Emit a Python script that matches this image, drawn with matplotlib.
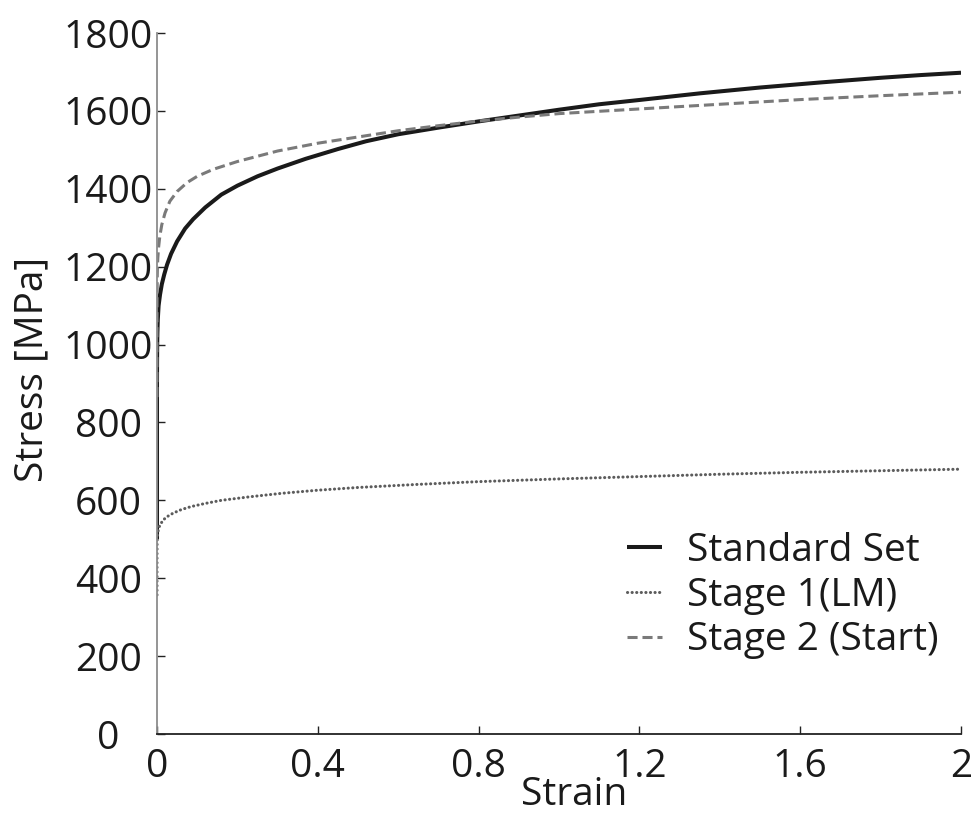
import matplotlib
matplotlib.use("Agg")
import matplotlib.pyplot as plt

plt.rcParams['font.family'] = ['Open Sans', 'DejaVu Sans']

# Flow curves: strain [-] vs. stress [MPa]
std_strain = [0, 0, 0.0002, 0.0005, 0.001, 0.002, 0.004, 0.0075, 0.012, 0.018,
              0.025, 0.035, 0.05, 0.07, 0.09, 0.12, 0.16, 0.2, 0.25, 0.3,
              0.37, 0.45, 0.52, 0.6, 0.7, 0.8, 0.9, 1.0, 1.1, 1.2,
              1.35, 1.5, 1.65, 1.8, 1.9, 2.0]
std_stress = [500, 900, 960, 1000, 1030, 1065, 1100, 1128, 1155, 1180,
              1205, 1233, 1265, 1298, 1322, 1352, 1385, 1408, 1432, 1452,
              1477, 1502, 1522, 1540, 1557, 1573, 1588, 1603, 1617, 1628,
              1645, 1660, 1673, 1685, 1692, 1698]

lm_strain = [0, 0, 0.0002, 0.0007, 0.0015, 0.003, 0.006, 0.01, 0.016, 0.025,
             0.04, 0.06, 0.085, 0.12, 0.16, 0.23, 0.31, 0.4, 0.5, 0.65,
             0.8, 1.0, 1.2, 1.4, 1.6, 1.8, 2.0]
lm_stress = [357, 450, 487, 505, 515, 522, 533, 541, 550, 558,
             567, 576, 584, 592, 600, 609, 618, 626, 633, 641,
             648, 655, 661, 667, 672, 676, 680]

start_strain = [0, 0, 0.0001, 0.0005, 0.001, 0.002, 0.004, 0.007, 0.012, 0.02,
                0.032, 0.05, 0.075, 0.1, 0.14, 0.2, 0.3, 0.4, 0.5, 0.6,
                0.7, 0.8, 0.9, 1.0, 1.2, 1.4, 1.6, 1.8, 2.0]
start_stress = [865, 1000, 1090, 1170, 1195, 1222, 1250, 1278, 1308, 1338,
                1368, 1393, 1416, 1432, 1450, 1470, 1497, 1517, 1533, 1549,
                1562, 1574, 1584, 1593, 1605, 1617, 1629, 1639, 1648]

labels = ["Standard Set", "Stage 1(LM)", "Stage 2 (Start)"]
x_ticks = [0, 0.4, 0.8, 1.2, 1.6, 2]
x_ticklabels = ["0", "0.4", "0.8", "1.2", "1.6", "2"]
y_ticks = [0, 200, 400, 600, 800, 1000, 1200, 1400, 1600, 1800]

fs = 28
ink = '#1a1a1a'

fig = plt.figure(figsize=(9.78, 8.13), dpi=100)
ax = fig.add_axes([157 / 978, 1 - 734 / 813, (961 - 157) / 978, (734 - 33) / 813])

ax.plot(std_strain, std_stress, color=ink, lw=2.9,
        solid_capstyle='butt', label=labels[0])
ax.plot(lm_strain, lm_stress, color='#5c5c5c', lw=2.2,
        linestyle=(0, (0.05, 1.45)), dash_capstyle='round', label=labels[1])
ax.plot(start_strain, start_stress, color='#7a7a7a', lw=2.2,
        linestyle=(0, (3.3, 1.6)), dash_capstyle='butt', label=labels[2])

ax.set_xlim(0, 2)
ax.set_ylim(0, 1800)
ax.set_xticks(x_ticks)
ax.set_xticklabels(x_ticklabels)
ax.set_yticks(y_ticks)

for side in ('top', 'right'):
    ax.spines[side].set_visible(False)
ax.spines['left'].set_color('#8c8c8c')
ax.spines['left'].set_linewidth(1.3)
ax.spines['bottom'].set_color('#222222')
ax.spines['bottom'].set_linewidth(1.3)

ax.tick_params(direction='in', length=6, width=1.0, color='#222222',
               labelsize=fs, labelcolor=ink)
# stress labels are centred in a column left of the axis
ax.tick_params(axis='y', pad=35)
for lbl in ax.get_yticklabels():
    lbl.set_horizontalalignment('center')
ax.tick_params(axis='x', pad=10)

ax.set_xlabel("Strain", fontsize=fs, color=ink)
ax.set_ylabel("Stress [MPa]", fontsize=fs, color=ink)
ax.xaxis.set_label_coords(0.519, -0.060)
ax.yaxis.set_label_coords(-0.131, 0.52)

leg = ax.legend(loc='upper left', bbox_to_anchor=(627 / 978, 1 - 532 / 813),
                bbox_transform=fig.transFigure, frameon=False, fontsize=fs,
                handlelength=0.9, handletextpad=0.65, labelspacing=0.17,
                borderaxespad=0, borderpad=0)
for t in leg.get_texts():
    t.set_color(ink)

fig.savefig("out.png", dpi=100)
